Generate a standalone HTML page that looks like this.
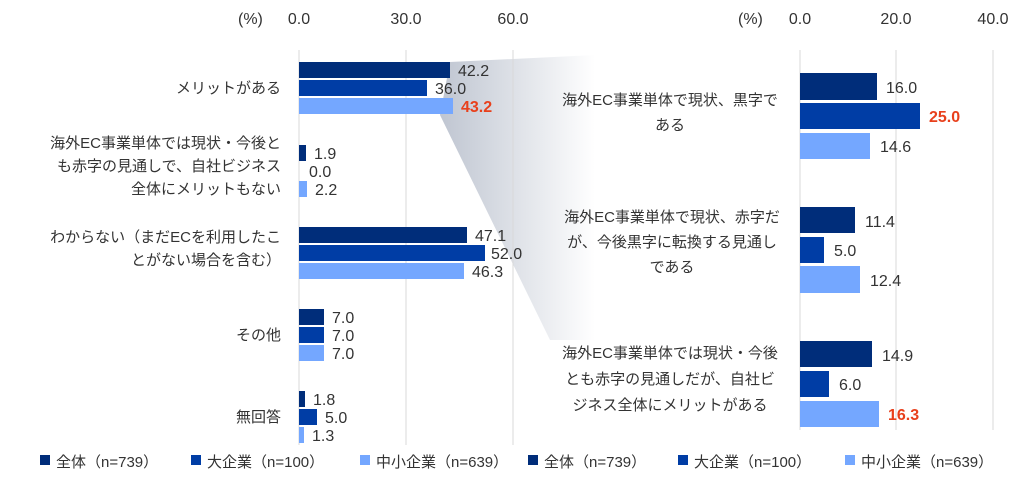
<!DOCTYPE html>
<html><head><meta charset="utf-8"><style>
body{margin:0;background:#fff;}
svg text{font-family:"Liberation Sans","Noto Sans CJK JP",sans-serif;fill:#333;}
.n{font-size:16px}
.l{font-size:15px}
</style></head><body>
<svg width="1024" height="480" viewBox="0 0 1024 480" xmlns="http://www.w3.org/2000/svg">
<defs><linearGradient id="g" x1="0" x2="1" y1="0" y2="0"><stop offset="0" stop-color="#b8bfcc"/><stop offset="1" stop-color="#ffffff"/></linearGradient></defs>
<polygon points="450,62 595,55 595,340 550,340 440,115" fill="url(#g)" opacity="0.9"/>
<g font-size="16">
<text x="238" y="24">(%)</text>
<text x="299" y="24" text-anchor="middle">0.0</text>
<text x="406" y="24" text-anchor="middle">30.0</text>
<text x="513" y="24" text-anchor="middle">60.0</text>
<text x="738" y="24">(%)</text>
<text x="800" y="24" text-anchor="middle">0.0</text>
<text x="896" y="24" text-anchor="middle">20.0</text>
<text x="993" y="24" text-anchor="middle">40.0</text>
</g>
<g stroke="#d9d9d9" stroke-width="1">
<line x1="299" y1="50" x2="299" y2="445"/><line x1="406" y1="50" x2="406" y2="445"/><line x1="513" y1="50" x2="513" y2="445"/>
<line x1="800" y1="50" x2="800" y2="430"/><line x1="896" y1="50" x2="896" y2="430"/><line x1="993" y1="50" x2="993" y2="430"/>
</g>
<g class="n">
<rect x="299" y="62" width="151" height="16" fill="#002d7a"/><rect x="299" y="80" width="128" height="16" fill="#003da5"/><rect x="299" y="98" width="154" height="16" fill="#74a7ff"/>
<text x="458" y="76">42.2</text><text x="435" y="94">36.0</text><text x="461" y="112" style="fill:#e8401c;font-weight:bold">43.2</text>
<rect x="299" y="145" width="7" height="16" fill="#002d7a"/><rect x="299" y="181" width="8" height="16" fill="#74a7ff"/>
<text x="314" y="159">1.9</text><text x="309" y="177">0.0</text><text x="315" y="195">2.2</text>
<rect x="299" y="227" width="168" height="16" fill="#002d7a"/><rect x="299" y="245" width="186" height="16" fill="#003da5"/><rect x="299" y="263" width="165" height="16" fill="#74a7ff"/>
<text x="475" y="241">47.1</text><text x="491" y="259">52.0</text><text x="472" y="277">46.3</text>
<rect x="299" y="309" width="25" height="16" fill="#002d7a"/><rect x="299" y="327" width="25" height="16" fill="#003da5"/><rect x="299" y="345" width="25" height="16" fill="#74a7ff"/>
<text x="332" y="323">7.0</text><text x="332" y="341">7.0</text><text x="332" y="359">7.0</text>
<rect x="299" y="391" width="6" height="16" fill="#002d7a"/><rect x="299" y="409" width="18" height="16" fill="#003da5"/><rect x="299" y="427" width="5" height="16" fill="#74a7ff"/>
<text x="313" y="405">1.8</text><text x="325" y="423">5.0</text><text x="312" y="441">1.3</text>
<rect x="800" y="73" width="77" height="27" fill="#002d7a"/><rect x="800" y="103" width="120" height="26" fill="#003da5"/><rect x="800" y="133" width="70" height="26" fill="#74a7ff"/>
<text x="886" y="93">16.0</text><text x="929" y="122" style="fill:#e8401c;font-weight:bold">25.0</text><text x="880" y="152">14.6</text>
<rect x="800" y="207" width="55" height="26" fill="#002d7a"/><rect x="800" y="237" width="24" height="26" fill="#003da5"/><rect x="800" y="266" width="60" height="27" fill="#74a7ff"/>
<text x="865" y="227">11.4</text><text x="834" y="256">5.0</text><text x="870" y="286">12.4</text>
<rect x="800" y="341" width="72" height="26" fill="#002d7a"/><rect x="800" y="371" width="29" height="26" fill="#003da5"/><rect x="800" y="401" width="79" height="26" fill="#74a7ff"/>
<text x="882" y="361">14.9</text><text x="839" y="390">6.0</text><text x="888" y="420" style="fill:#e8401c;font-weight:bold">16.3</text>
</g>
<g class="l">
<g text-anchor="end">
<text x="281" y="93">メリットがある</text>
<text x="281" y="148">海外EC事業単体では現状・今後と</text>
<text x="281" y="171">も赤字の見通しで、自社ビジネス</text>
<text x="281" y="194">全体にメリットもない</text>
<text x="281" y="242">わからない（まだECを利用したこ</text>
<text x="281" y="265">とがない場合を含む）</text>
<text x="281" y="340">その他</text>
<text x="281" y="422">無回答</text>
</g>
<g text-anchor="middle">
<text x="670" y="105">海外EC事業単体で現状、黒字で</text>
<text x="670" y="130">ある</text>
<text x="672" y="222">海外EC事業単体で現状、赤字だ</text>
<text x="672" y="247">が、今後黒字に転換する見通し</text>
<text x="672" y="272">である</text>
<text x="670" y="358">海外EC事業単体では現状・今後</text>
<text x="670" y="384">とも赤字の見通しだが、自社ビ</text>
<text x="670" y="410">ジネス全体にメリットがある</text>
</g>
</g>
<g font-size="15">
<rect x="40" y="455" width="10" height="10" fill="#002d7a"/><text x="56" y="467">全体（n=739）</text>
<rect x="191" y="455" width="10" height="10" fill="#003da5"/><text x="207" y="467">大企業（n=100）</text>
<rect x="360" y="455" width="10" height="10" fill="#74a7ff"/><text x="376" y="467">中小企業（n=639）</text>
<rect x="528" y="455" width="10" height="10" fill="#002d7a"/><text x="544" y="467">全体（n=739）</text>
<rect x="678" y="455" width="10" height="10" fill="#003da5"/><text x="694" y="467">大企業（n=100）</text>
<rect x="845" y="455" width="10" height="10" fill="#74a7ff"/><text x="861" y="467">中小企業（n=639）</text>
</g>
</svg>
</body></html>
